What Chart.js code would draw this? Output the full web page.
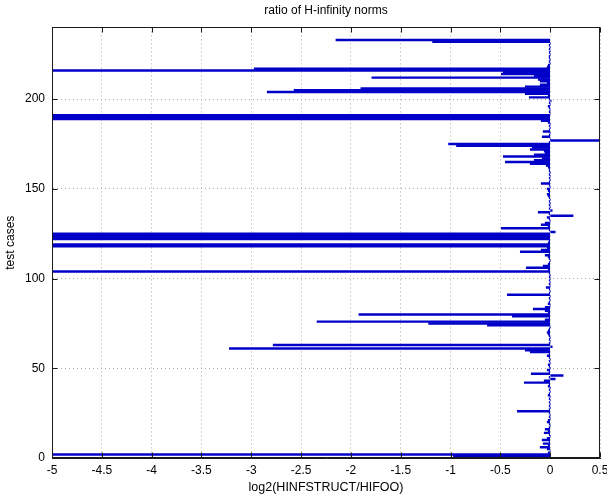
<!DOCTYPE html>
<html>
<head>
<meta charset="utf-8">
<script src="https://cdn.jsdelivr.net/npm/chart.js@4"></script>
<style>
  html, body { margin: 0; padding: 0; background: #fff; }
  #wrap { width: 607px; height: 498px; }
</style>
</head>
<body>
<div id="wrap"><canvas id="c" width="607" height="498"></canvas></div>
<script>
// log2(HINFSTRUCT/HIFOO) for test cases 1..233 (values below -5 / above 0.5 are clipped by the axes)
const ratios = [
  -0.97, -5.5, -0.02, 0, -0.03, -0.10, -0.02, -0.07, -0.01, -0.08,
  -0.03, 0, -0.01, -0.06, -0.02, -0.05, -0.01, 0, -0.01, -0.03,
  -0.02, 0, -0.01, 0, -0.01, -0.33, -0.01, 0, -0.01, 0,
  -0.01, 0, -0.01, 0, -0.02, -0.01, 0, -0.01, 0, -0.02,
  -0.01, -0.26, -0.06, 0.05, -0.01, 0.13, -0.19, -0.01, -0.03, 0,
  -0.01, -0.02, 0, -0.01, 0, -0.01, -0.03, -0.01, -0.20, -0.25,
  -3.22, 0.02, -2.78, -0.01, 0, -0.01, 0, -0.01, -0.02, -0.03,
  -0.02, -0.01, 0, -0.63, -1.22, -2.34, -0.05, -0.01, -0.38, -1.92,
  -0.02, -0.05, -0.17, -0.05, 0, -0.02, -0.01, 0, -0.01, 0,
  -0.43, -0.01, 0, -0.01, -0.04, 0, -0.01, 0, -0.01, 0,
  -0.01, 0, -0.01, -5.5, -0.02, -0.24, -0.07, -0.02, -0.01, 0,
  -0.01, -0.02, -0.05, -0.01, -0.30, -0.09, -0.03, -5.5, -5.5, -0.02,
  -0.01, -5.5, -5.5, -5.5, -5.5, 0.05, -0.01, -0.49, -0.02, -0.09,
  -0.05, 0, -0.01, -0.03, 0.23, -0.01, -0.12, 0.02, -0.01, 0,
  -0.01, 0, -0.01, 0, -0.01, -0.02, -0.03, -0.01, -0.02, -0.03,
  0, -0.01, -0.09, -0.01, 0, -0.01, 0, -0.01, 0, -0.01,
  -0.01, -0.02, -0.04, -0.20, -0.45, -0.16, -0.08, -0.47, -0.16, -0.05,
  -0.06, -0.20, -0.18, -0.94, -1.02, -0.01, 0.52, 0, -0.08, -0.01,
  0, -0.07, -0.01, 0, -0.01, 0, -0.02, -0.09, -5.5, -5.5,
  -5.5, 0, -0.01, 0, -0.01, -0.02, 0, -0.01, 0.01, -0.01,
  -0.21, -0.02, -0.25, -2.84, -2.57, -1.90, -0.25, -0.10, -0.03, -0.10,
  -0.12, -1.79, -0.16, -0.49, -0.47, -5.5, -2.97, -0.03, -0.02, 0,
  -0.01, 0, -0.01, -0.01, 0, -0.01, 0, -0.01, 0, -0.01,
  0, -1.18, -2.15
];
const xTickValues = [-5, -4.5, -4, -3.5, -3, -2.5, -2, -1.5, -1, -0.5, 0, 0.5];
const yTickValues = [0, 50, 100, 150, 200];
const xRange = [-5, 0.5];
const yRange = [0, 240];
const titleText = 'ratio of H-infinity norms';
const xTitle = 'log2(HINFSTRUCT/HIFOO)';
const yTitle = 'test cases';

const points = ratios.map((v, i) => ({ x: v, y: i + 1 }));
const FONT = "'Liberation Sans', Arial, Helvetica, sans-serif";

const boxPlugin = {
  id: 'matlabBox',
  afterDatasetsDraw(chart) {
    const { ctx, chartArea: a, scales } = chart;
    const x = scales.x, y = scales.y;
    ctx.save();
    ctx.strokeStyle = '#1a1a1a';
    ctx.lineWidth = 1;
    const L = Math.round(a.left) + 0.5, R = Math.round(a.right) - 0.5;
    const T = Math.round(a.top) + 0.5, B = Math.round(a.bottom) - 0.5;
    ctx.strokeRect(L, T, R - L, B - T);
    ctx.beginPath();
    xTickValues.forEach(v => {
      const p = Math.round(x.getPixelForValue(v)) + 0.5;
      ctx.moveTo(p, B); ctx.lineTo(p, B - 5);
      ctx.moveTo(p, T); ctx.lineTo(p, T + 5);
    });
    yTickValues.forEach(v => {
      const p = Math.round(y.getPixelForValue(v)) + 0.5;
      ctx.moveTo(L, p); ctx.lineTo(L + 5, p);
      ctx.moveTo(R, p); ctx.lineTo(R - 5, p);
    });
    ctx.stroke();
    ctx.restore();
  }
};

new Chart(document.getElementById('c'), {
  type: 'bar',
  data: {
    datasets: [{
      data: points,
      backgroundColor: 'rgb(0,0,200)',
      borderWidth: 0,
      barPercentage: 1.0,
      categoryPercentage: 1.0
    }]
  },
  options: {
    indexAxis: 'y',
    responsive: false,
    animation: false,
    devicePixelRatio: 1,
    layout: { padding: { left: 0, right: 7, top: 0, bottom: 0 } },
    plugins: {
      legend: { display: false },
      tooltip: { enabled: false },
      title: {
        display: true,
        fullSize: false,
        text: titleText,
        color: '#000',
        font: { family: FONT, size: 12, weight: 'normal' },
        padding: { top: 3, bottom: 10 }
      }
    },
    scales: {
      x: {
        type: 'linear',
        min: xRange[0], max: xRange[1],
        offset: false,
        afterBuildTicks: s => { s.ticks = xTickValues.map(v => ({ value: v })); },
        afterFit: s => { s.height = 40; s.paddingLeft = 0; s.paddingRight = 0; },
        grid: { color: '#aaaaaa', drawTicks: false, lineWidth: 1, offset: false },
        border: { display: true, color: '#1a1a1a', dash: [1, 3] },
        ticks: {
          color: '#000', padding: 5, maxRotation: 0, autoSkip: false,
          font: { family: FONT, size: 12 },
          callback: v => String(Math.round(v * 10) / 10)
        },
        title: {
          display: true, text: xTitle, color: '#000',
          font: { family: FONT, size: 12.5 },
          padding: { top: 0, bottom: 3 }
        }
      },
      y: {
        type: 'linear',
        min: yRange[0], max: yRange[1],
        offset: false,
        afterBuildTicks: s => { s.ticks = yTickValues.map(v => ({ value: v })); },
        afterFit: s => { s.width = 52; s.paddingTop = 0; s.paddingBottom = 0; },
        grid: { color: '#aaaaaa', drawTicks: false, lineWidth: 1, offset: false },
        border: { display: true, color: '#1a1a1a', dash: [1, 3] },
        ticks: {
          color: '#000', padding: 7, autoSkip: false,
          font: { family: FONT, size: 12 },
          callback: v => String(v)
        },
        title: {
          display: true, text: yTitle, color: '#000',
          font: { family: FONT, size: 12 },
          padding: { top: 3, bottom: 0 }
        }
      }
    }
  },
  plugins: [boxPlugin]
});
</script>
</body>
</html>
